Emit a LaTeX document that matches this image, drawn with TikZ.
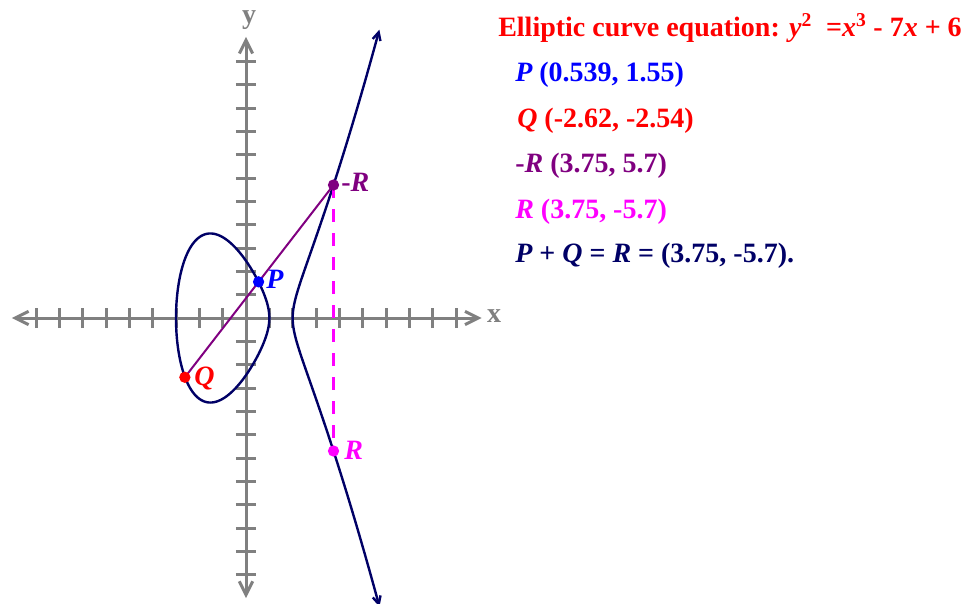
\documentclass[tikz,border=0pt]{standalone}
\usepackage{fontspec}
\setmainfont{Liberation Serif}
\usetikzlibrary{arrows.meta}
\definecolor{navyc}{RGB}{0,0,102}
\definecolor{greyc}{RGB}{128,128,128}
\definecolor{purplec}{RGB}{128,0,128}
\definecolor{magentac}{RGB}{255,0,255}
\definecolor{redc}{RGB}{255,0,0}
\definecolor{bluec}{RGB}{0,0,255}
\begin{document}
\begin{tikzpicture}[x=0.75pt,y=-0.75pt,
  axisline/.style={draw=greyc, line width=2.25pt, {Straight Barb[length=10pt,width=10pt]}-{Straight Barb[length=10pt,width=10pt]}},
  tickline/.style={draw=greyc, line width=2.25pt},
  curveline/.style={draw=navyc, line width=1.8pt},
  ptdot/.style={circle, inner sep=0pt, minimum size=8.5pt},
  ptlabel/.style={font=\fontsize{21}{25}\selectfont\bfseries\itshape, inner sep=0pt, anchor=base west},
  infotext/.style={font=\fontsize{21}{25}\selectfont\bfseries, inner sep=0pt, anchor=base west},
  axlabel/.style={font=\fontsize{21}{25}\selectfont\bfseries, text=greyc, inner sep=0pt, anchor=base}
]
\useasboundingbox (0,0) rectangle (969,603);
\begin{scope}[shift={(246,318)}, x=17.5pt, y=17.5pt]
  \coordinate (xl) at (-10.03,0); \coordinate (xr) at (10.1,0);
  \coordinate (yb) at (0,-12); \coordinate (yt) at (0,12.05);
  \draw[axisline] (xl) -- (xr);
  \draw[axisline] (yb) -- (yt);
  \foreach \i in {-9,...,-1,1,2,...,9} \draw[tickline] (\i,-0.43) -- (\i,0.43);
  \foreach \i in {-11,...,-1,1,2,...,11} \draw[tickline] (-0.43,\i) -- (0.43,\i);
  % curve y^2 = x^3 - 7x + 6
  \draw[curveline, {Straight Barb[length=6pt,width=6pt]}-{Straight Barb[length=6pt,width=6pt]}]
    plot[domain=-1.9287:1.9287, samples=81, smooth, variable=\t] ({2+\t*\t},{\t*sqrt((1+\t*\t)*(5+\t*\t))});
  \draw[curveline] plot[domain=0:357.5, samples=144, variable=\s] ({-1-2*cos(\s)},{2*sin(\s)*sqrt(3+2*cos(\s))}) -- cycle;
  \coordinate (P) at (0.539,1.55);
  \coordinate (Q) at (-2.62,-2.54);
  \coordinate (mR) at (3.75,5.7);
  \coordinate (R) at (3.75,-5.7);
  \draw[draw=purplec, line width=1.5pt] (Q) -- (mR);
  \draw[draw=magentac, line width=2.4pt, dash pattern=on 10pt off 8pt] (mR) -- (R);
  \node[ptdot, fill=bluec] (Pd) at (P) {};
  \node[ptdot, fill=redc] (Qd) at (Q) {};
  \node[ptdot, fill=purplec] (mRd) at (mR) {};
  \node[ptdot, fill=magentac] (Rd) at (R) {};
\end{scope}
\node[axlabel] (xlab) at (494,322) {x};
\node[axlabel] (ylab) at (249,23) {y};
\node[ptlabel, text=bluec] (Pl) at (266,288) {P};
\node[ptlabel, text=redc] (Ql) at (194,385) {Q};
\node[ptlabel, text=purplec] (mRl) at (341,191.5) {{\upshape -}R};
\node[ptlabel, text=magentac] (Rl) at (344,459) {R};
\node[infotext, text=redc] (title) at (498,36.7) {Elliptic curve equation: {\itshape y}\textsuperscript{2}\ \ ={\itshape x}\textsuperscript{3} - 7{\itshape x} + 6};
\node[infotext, text=bluec] (t1) at (515,81.7) {{\itshape P} (0.539, 1.55)};
\node[infotext, text=redc] (t2) at (517,127.7) {{\itshape Q} (-2.62, -2.54)};
\node[infotext, text=purplec] (t3) at (515,172) {-{\itshape R} (3.75, 5.7)};
\node[infotext, text=magentac] (t4) at (515,218) {{\itshape R} (3.75, -5.7)};
\node[infotext, text=navyc] (t5) at (515,262) {{\itshape P} + {\itshape Q} = {\itshape R} = (3.75, -5.7).};
\end{tikzpicture}
\end{document}
